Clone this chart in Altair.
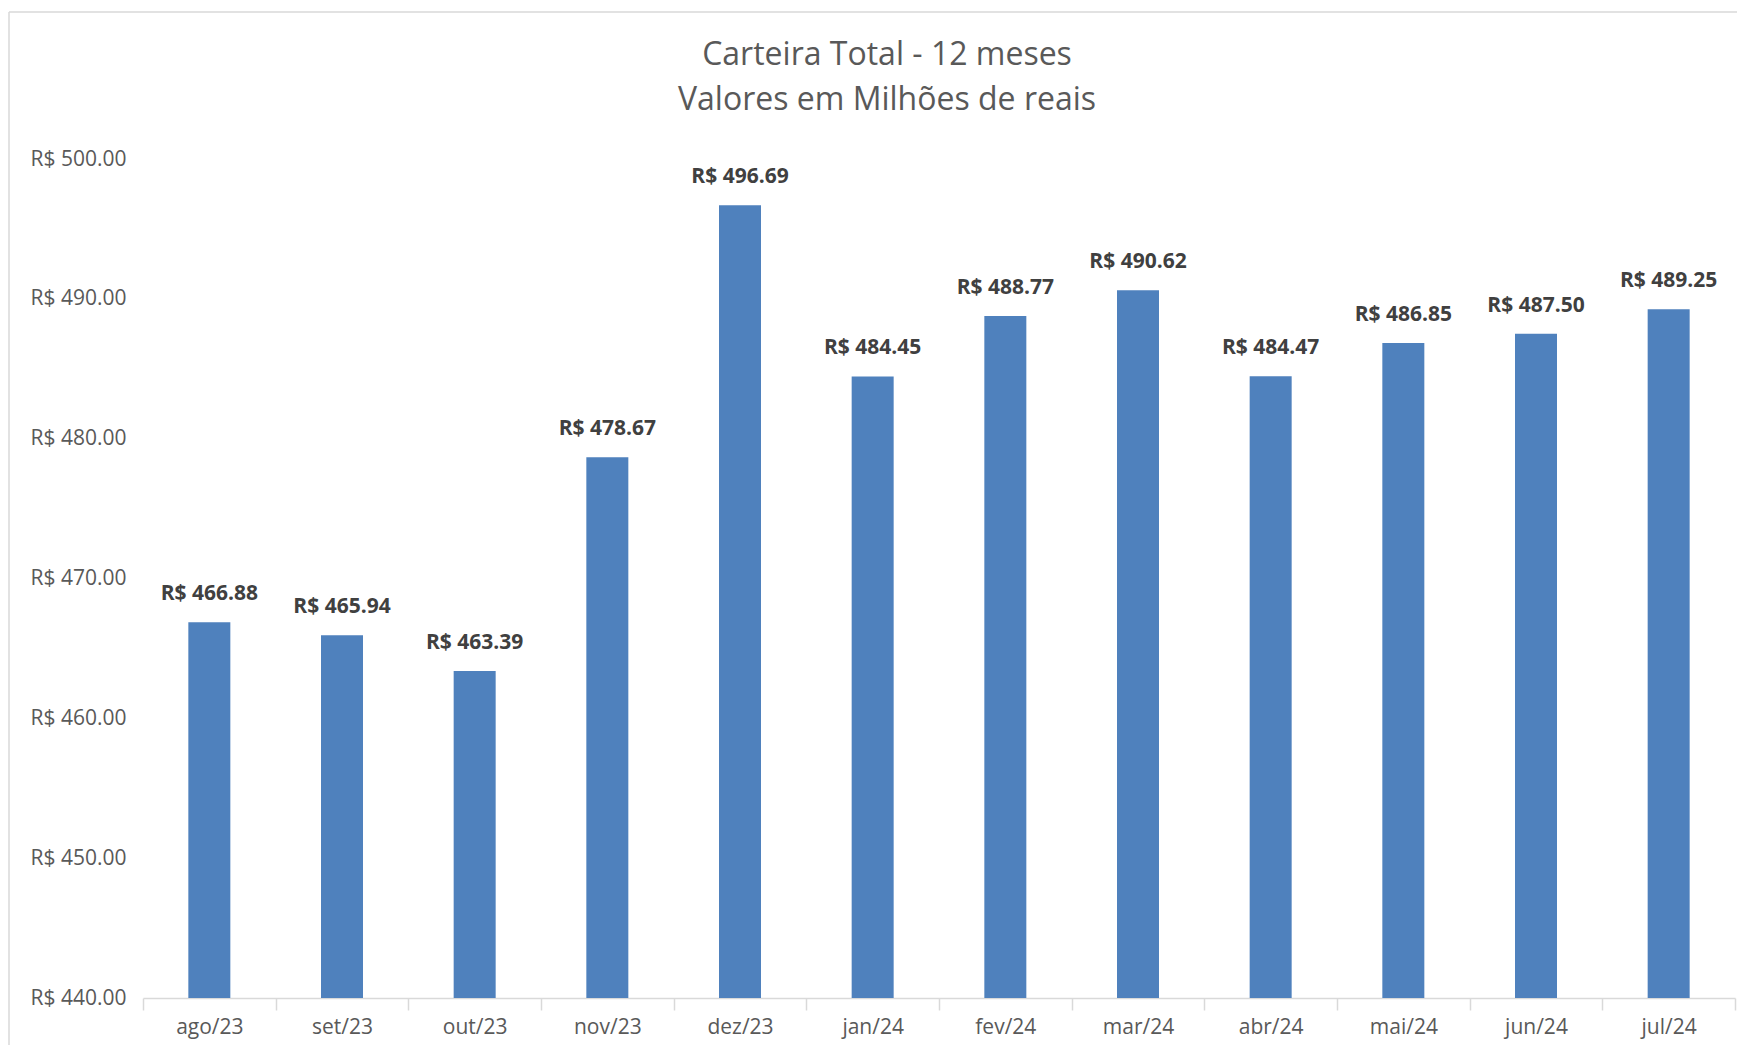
import altair as alt
import pandas as pd

meses = ["ago/23", "set/23", "out/23", "nov/23", "dez/23", "jan/24",
         "fev/24", "mar/24", "abr/24", "mai/24", "jun/24", "jul/24"]
valores = [466.88, 465.94, 463.39, 478.67, 496.69, 484.45,
           488.77, 490.62, 484.47, 486.85, 487.50, 489.25]
y_ticks = [440, 450, 460, 470, 480, 490, 500]

df = pd.DataFrame({"mes": meses, "valor": valores})

FONT = "Open Sans"
W, H = 1592, 839

x_enc = alt.X("mes:N", sort=meses, title=None,
              scale=alt.Scale(paddingInner=0, paddingOuter=0),
              axis=alt.Axis(labelAngle=0, labelFontSize=21, labelColor="#595959",
                            labelFont=FONT, labelPadding=6,
                            domainColor="#D9D9D9", domainWidth=1.5,
                            tickColor="#D9D9D9", tickWidth=1.5, tickSize=12,
                            tickBand="extent"))
y_enc = alt.Y("valor:Q", title=None,
              scale=alt.Scale(domain=[440, 500], nice=False, zero=False),
              axis=alt.Axis(values=y_ticks, domain=False, ticks=False, grid=False,
                            labelExpr="'R$ ' + format(datum.value, '.2f')",
                            labelFontSize=21, labelColor="#595959", labelFont=FONT,
                            labelPadding=17))

base = alt.Chart(df)

bars = base.mark_bar(color="#4F81BD", width=42, clip=True).encode(
    x=x_enc, y=y_enc, y2=alt.datum(440)
)

labels = base.transform_calculate(
    rotulo="'R$ ' + format(datum.valor, '.2f')"
).mark_text(font=FONT, fontSize=21, fontWeight="bold", color="#404040",
            baseline="alphabetic", dy=-22).encode(
    x=alt.X("mes:N", sort=meses), y=alt.Y("valor:Q"), text="rotulo:N"
)

border_left = alt.Chart(df).mark_rule(color="#D9D9D9", strokeWidth=1.5).encode(
    x=alt.value(-134), y=alt.value(-147), y2=alt.value(886)
).transform_filter("datum.mes == 'ago/23'")
border_top = alt.Chart(df).mark_rule(color="#D9D9D9", strokeWidth=1.5).encode(
    x=alt.value(-134), x2=alt.value(1594), y=alt.value(-147)
).transform_filter("datum.mes == 'ago/23'")

chart = alt.layer(bars, labels, border_left, border_top).properties(
    width=W, height=H,
    padding={"left": 0, "top": 3, "right": 0, "bottom": 0},
    title=alt.TitleParams(
        text=["Carteira Total - 12 meses", "Valores em Milhões de reais"],
        font=FONT, fontSize=32, fontWeight="normal", color="#595959",
        lineHeight=45, anchor="middle", offset=-106, dx=-52
    ),
    background="white"
).configure_view(stroke=None)

chart.save("out.html", embed_options={"renderer": "svg", "actions": False})
